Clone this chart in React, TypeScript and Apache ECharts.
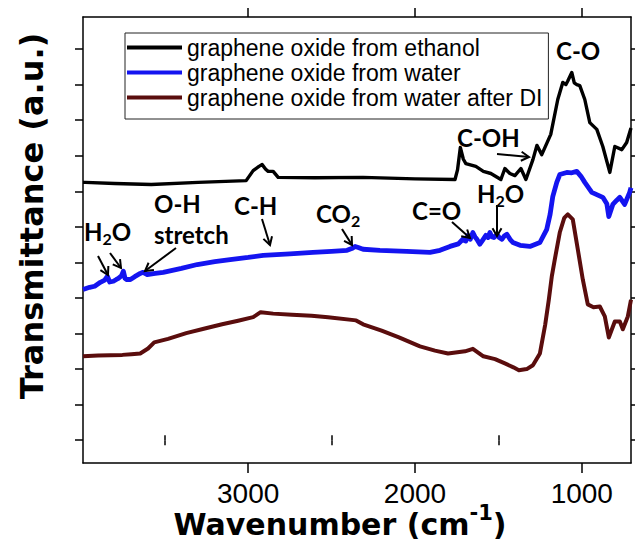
import React, { useEffect, useRef } from 'react';
import * as echarts from 'echarts';

const seriesNames = [
  'graphene oxide from ethanol',
  'graphene oxide from water',
  'graphene oxide from water after DI',
];
const seriesColors = ['#000000', '#1414f0', '#5a0d0d'];
const xMajorTicks = [1000, 2000, 3000];
const xMinorTicks = [1500, 2500, 3500];
const yTicks = [0, 1, 2, 3, 4, 5, 6, 7, 8, 9, 10, 11];

const ethanol = [
  [3990, 7.25], [3976, 7.25], [3800, 7.22], [3581, 7.19], [3300, 7.25], [3012, 7.3],
  [2970, 7.58], [2935, 7.7], [2916, 7.75], [2895, 7.62], [2880, 7.56], [2850, 7.56],
  [2820, 7.39], [2600, 7.38], [2311, 7.39], [2000, 7.35], [1760, 7.33], [1745, 7.6],
  [1728, 8.23], [1710, 7.9], [1695, 7.78], [1635, 7.7], [1590, 7.56], [1545, 7.5],
  [1485, 7.33], [1461, 7.64], [1431, 7.5], [1401, 7.44], [1365, 7.64], [1335, 7.33],
  [1293, 7.89], [1269, 8.29], [1240, 8.03], [1186, 8.6], [1144, 9.58], [1114, 10.06],
  [1095, 10.0], [1084, 10.1], [1060, 10.34], [1045, 10.05], [1030, 10.0], [1012, 9.97],
  [982, 9.58], [952, 8.93], [910, 8.74], [874, 8.26], [832, 7.53], [802, 8.26],
  [760, 8.17], [731, 8.37], [705, 8.78],
];

const water = [
  [3990, 4.24], [3950, 4.3], [3920, 4.33], [3886, 4.44], [3860, 4.5], [3844, 4.61],
  [3830, 4.45], [3808, 4.47], [3790, 4.52], [3778, 4.55], [3760, 4.62], [3748, 4.75],
  [3738, 4.55], [3730, 4.52], [3706, 4.52], [3680, 4.6], [3647, 4.69], [3630, 4.72],
  [3605, 4.66], [3557, 4.69], [3509, 4.72], [3400, 4.83], [3305, 4.94], [3200, 5.02],
  [3108, 5.08], [3000, 5.14], [2910, 5.2], [2750, 5.24], [2611, 5.28], [2500, 5.31],
  [2407, 5.34], [2375, 5.4], [2359, 5.45], [2340, 5.42], [2311, 5.37], [2210, 5.34],
  [2050, 5.31], [1910, 5.28], [1850, 5.34], [1790, 5.45], [1740, 5.52], [1713, 5.65],
  [1695, 5.6], [1683, 5.76], [1668, 5.65], [1653, 5.84], [1640, 5.72], [1629, 5.65],
  [1611, 5.51], [1595, 5.62], [1575, 5.76], [1562, 5.7], [1551, 5.84], [1540, 5.72],
  [1527, 5.7], [1509, 5.79], [1495, 5.7], [1479, 5.65], [1465, 5.74], [1449, 5.79],
  [1430, 5.65], [1413, 5.56], [1370, 5.48], [1311, 5.45], [1251, 5.56], [1210, 5.93],
  [1190, 6.35], [1174, 6.85], [1150, 7.25], [1132, 7.47], [1090, 7.53], [1060, 7.52],
  [1030, 7.56], [1005, 7.42], [982, 7.25], [940, 6.97], [874, 6.83], [850, 6.65],
  [838, 6.29], [814, 6.63], [790, 6.75], [772, 6.83], [743, 6.63], [713, 6.97], [705, 7.1],
];

const waterDI = [
  [3990, 2.36], [3900, 2.38], [3754, 2.4], [3700, 2.42], [3647, 2.44], [3600, 2.58],
  [3563, 2.75], [3480, 2.85], [3371, 3.01], [3260, 3.14], [3156, 3.26], [3060, 3.36],
  [2970, 3.46], [2925, 3.6], [2850, 3.56], [2737, 3.53], [2620, 3.5], [2521, 3.46],
  [2353, 3.37], [2311, 3.26], [2200, 3.08], [2096, 2.89], [1970, 2.64], [1880, 2.52],
  [1802, 2.44], [1700, 2.5], [1653, 2.57], [1590, 2.36], [1520, 2.28], [1461, 2.16],
  [1410, 2.05], [1377, 1.97], [1330, 2.0], [1293, 2.11], [1251, 2.44], [1219, 3.26],
  [1198, 3.94], [1180, 4.6], [1162, 5.08], [1132, 5.84], [1105, 6.25], [1084, 6.35],
  [1054, 6.21], [1024, 5.37], [994, 4.52], [964, 3.82], [930, 3.74], [892, 3.76],
  [862, 3.48], [838, 2.89], [802, 3.34], [772, 3.34], [754, 3.12], [724, 3.48], [705, 3.95],
];

const X_MIN = 705;
const X_MAX = 3990;
const Y_MIN = -0.64;
const Y_MAX = 11.9;

const ANN_FONT_SIZE = 24;
const ANN_FAMILY = 'Lato';

function measure(text: string, font: string): number {
  const ctx = document.createElement('canvas').getContext('2d');
  if (!ctx) return text.length * 12;
  ctx.font = font;
  return ctx.measureText(text).width;
}

function arrow(x1: number, y1: number, x2: number, y2: number): any[] {
  const a = Math.atan2(y2 - y1, x2 - x1);
  const L = 9;
  const s = Math.PI / 6;
  const p1 = [x2 - L * Math.cos(a - s), y2 - L * Math.sin(a - s)];
  const p2 = [x2 - L * Math.cos(a + s), y2 - L * Math.sin(a + s)];
  return [
    { type: 'line', z: 100, shape: { x1, y1, x2, y2 }, style: { stroke: '#000', lineWidth: 2 } },
    { type: 'polyline', z: 100, shape: { points: [p1, [x2, y2], p2] }, style: { stroke: '#000', lineWidth: 2, fill: null } },
  ];
}

function annText(x: number, yMid: number, text: string): any {
  return {
    type: 'text', z: 100, x, y: yMid,
    style: { text, fill: '#000', fontSize: ANN_FONT_SIZE, fontWeight: 'bold', fontFamily: ANN_FAMILY, align: 'left', verticalAlign: 'middle' },
  };
}

function chem(x: number, yMid: number, a: string, sub: string, b: string): any[] {
  const font = `bold ${ANN_FONT_SIZE}px ${ANN_FAMILY}`;
  const subSize = 16;
  const wa = measure(a, font);
  const ws = measure(sub, `bold ${subSize}px ${ANN_FAMILY}`);
  const out: any[] = [annText(x, yMid, a)];
  out.push({
    type: 'text', z: 100, x: x + wa, y: yMid + 7,
    style: { text: sub, fill: '#000', fontSize: subSize, fontWeight: 'bold', fontFamily: ANN_FAMILY, align: 'left', verticalAlign: 'middle' },
  });
  if (b) out.push(annText(x + wa + ws, yMid, b));
  return out;
}

export default function App() {
  const ref = useRef<HTMLDivElement>(null);

  useEffect(() => {
    if (!ref.current) return;
    const chart = echarts.init(ref.current, undefined, { renderer: 'svg' });

    const titleFont = 'DejaVu Sans';
    const titleSize = 30;
    const supSize = 21;
    const mainPart = 'Wavenumber (cm';
    const wMain = measure(mainPart, `bold ${titleSize}px ${titleFont}`);
    const wSup = measure('-1', `bold ${supSize}px ${titleFont}`);
    const wClose = measure(')', `bold ${titleSize}px ${titleFont}`);
    const totalW = wMain + wSup + wClose;
    const xTitleCenter = 340;
    const xTitleMid = 524;
    const x0 = xTitleCenter - totalW / 2;

    const titleStyle = (text: string, size: number) => ({
      text, fill: '#000', fontSize: size, fontWeight: 'bold', fontFamily: titleFont, align: 'left', verticalAlign: 'middle',
    });

    const graphics: any[] = [
      { type: 'text', x: x0, y: xTitleMid, style: titleStyle(mainPart, titleSize) },
      { type: 'text', x: x0 + wMain, y: xTitleMid - 11, style: titleStyle('-1', supSize) },
      { type: 'text', x: x0 + wMain + wSup, y: xTitleMid, style: titleStyle(')', titleSize) },
      {
        type: 'text', x: 32, y: 216, rotation: Math.PI / 2,
        style: { text: 'Transmittance (a.u.)', fill: '#000', fontSize: 32, fontWeight: 'bold', fontFamily: titleFont, align: 'center', verticalAlign: 'middle' },
      },
      annText(556, 50, 'C-O'),
      annText(457, 137, 'C-OH'),
      ...arrow(497, 154, 529, 157),
      ...chem(477, 193, 'H', '2', 'O'),
      ...arrow(497, 205, 497, 236),
      annText(412, 210, 'C=O'),
      ...arrow(452, 222, 470, 238),
      ...chem(316, 213, 'CO', '2', ''),
      ...arrow(342, 229, 352, 245),
      annText(234, 205, 'C-H'),
      ...arrow(262, 219, 270, 245),
      annText(154, 203, 'O-H'),
      annText(154, 234, 'stretch'),
      ...arrow(176, 248, 145, 271),
      ...chem(84, 231, 'H', '2', 'O'),
      ...arrow(98, 256, 108, 275),
      ...arrow(110, 253, 121, 268),
    ];

    const axisLine = { show: true, onZero: false, lineStyle: { color: '#000', width: 1.5 } };
    const tickStyle = { color: '#000', width: 1.5 };

    const xBase = { type: 'value', min: X_MIN, max: X_MAX, inverse: true, splitLine: { show: false }, gridIndex: 0 };

    chart.setOption({
      animation: false,
      backgroundColor: '#fff',
      grid: { left: 83, right: 4, top: 17, bottom: 82, containLabel: false },
      legend: {
        left: 125, top: 33, orient: 'vertical', padding: [2, 6, 9, 2], itemGap: 0,
        itemWidth: 55, itemHeight: 4, icon: 'rect',
        borderColor: '#222', borderWidth: 1,
        textStyle: { fontSize: 23, lineHeight: 25, fontFamily: 'Liberation Sans, Arial', color: '#000' },
        data: seriesNames,
      },
      xAxis: [
        {
          ...xBase, position: 'bottom', axisLine,
          axisTick: { show: true, inside: false, length: 10, customValues: xMajorTicks, lineStyle: tickStyle },
          axisLabel: {
            show: true, customValues: xMajorTicks, fontSize: 28, color: '#000',
            fontFamily: 'Liberation Sans, Arial', margin: 16,
            formatter: (v: number) => String(v),
          },
        },
        {
          ...xBase, position: 'bottom', axisLine: { show: false },
          axisTick: { show: true, inside: false, length: 5, customValues: xMinorTicks, lineStyle: tickStyle },
          axisLabel: { show: false },
        },
        {
          ...xBase, position: 'top', axisLine,
          axisTick: { show: true, inside: false, length: 9, customValues: xMajorTicks, lineStyle: tickStyle },
          axisLabel: { show: false },
        },
        {
          ...xBase, position: 'top', axisLine: { show: false },
          axisTick: { show: true, inside: false, length: 5, customValues: xMinorTicks, lineStyle: tickStyle },
          axisLabel: { show: false },
        },
      ],
      yAxis: [
        {
          type: 'value', position: 'left', min: Y_MIN, max: Y_MAX, axisLine, splitLine: { show: false },
          axisTick: { show: true, inside: false, length: 8, customValues: yTicks, lineStyle: tickStyle },
          axisLabel: { show: false },
        },
        {
          type: 'value', position: 'right', min: Y_MIN, max: Y_MAX, axisLine, splitLine: { show: false },
          axisTick: { show: true, inside: false, length: 8, customValues: yTicks, lineStyle: tickStyle },
          axisLabel: { show: false },
        },
      ],
      series: [
        {
          name: seriesNames[0], type: 'line', data: ethanol, xAxisIndex: 0, yAxisIndex: 0,
          showSymbol: false, symbol: 'none', color: seriesColors[0],
          lineStyle: { width: 3.4, color: seriesColors[0], join: 'round' },
        },
        {
          name: seriesNames[1], type: 'line', data: water, xAxisIndex: 0, yAxisIndex: 0,
          showSymbol: false, symbol: 'none', color: seriesColors[1],
          lineStyle: { width: 4.8, color: seriesColors[1], join: 'round' },
        },
        {
          name: seriesNames[2], type: 'line', data: waterDI, xAxisIndex: 0, yAxisIndex: 0,
          showSymbol: false, symbol: 'none', color: seriesColors[2],
          lineStyle: { width: 4, color: seriesColors[2], join: 'round' },
        },
      ],
      graphic: graphics,
    });

    return () => chart.dispose();
  }, []);

  return <div ref={ref} style={{ position: 'absolute', left: 0, top: 0, width: 635, height: 545 }} />;
}
